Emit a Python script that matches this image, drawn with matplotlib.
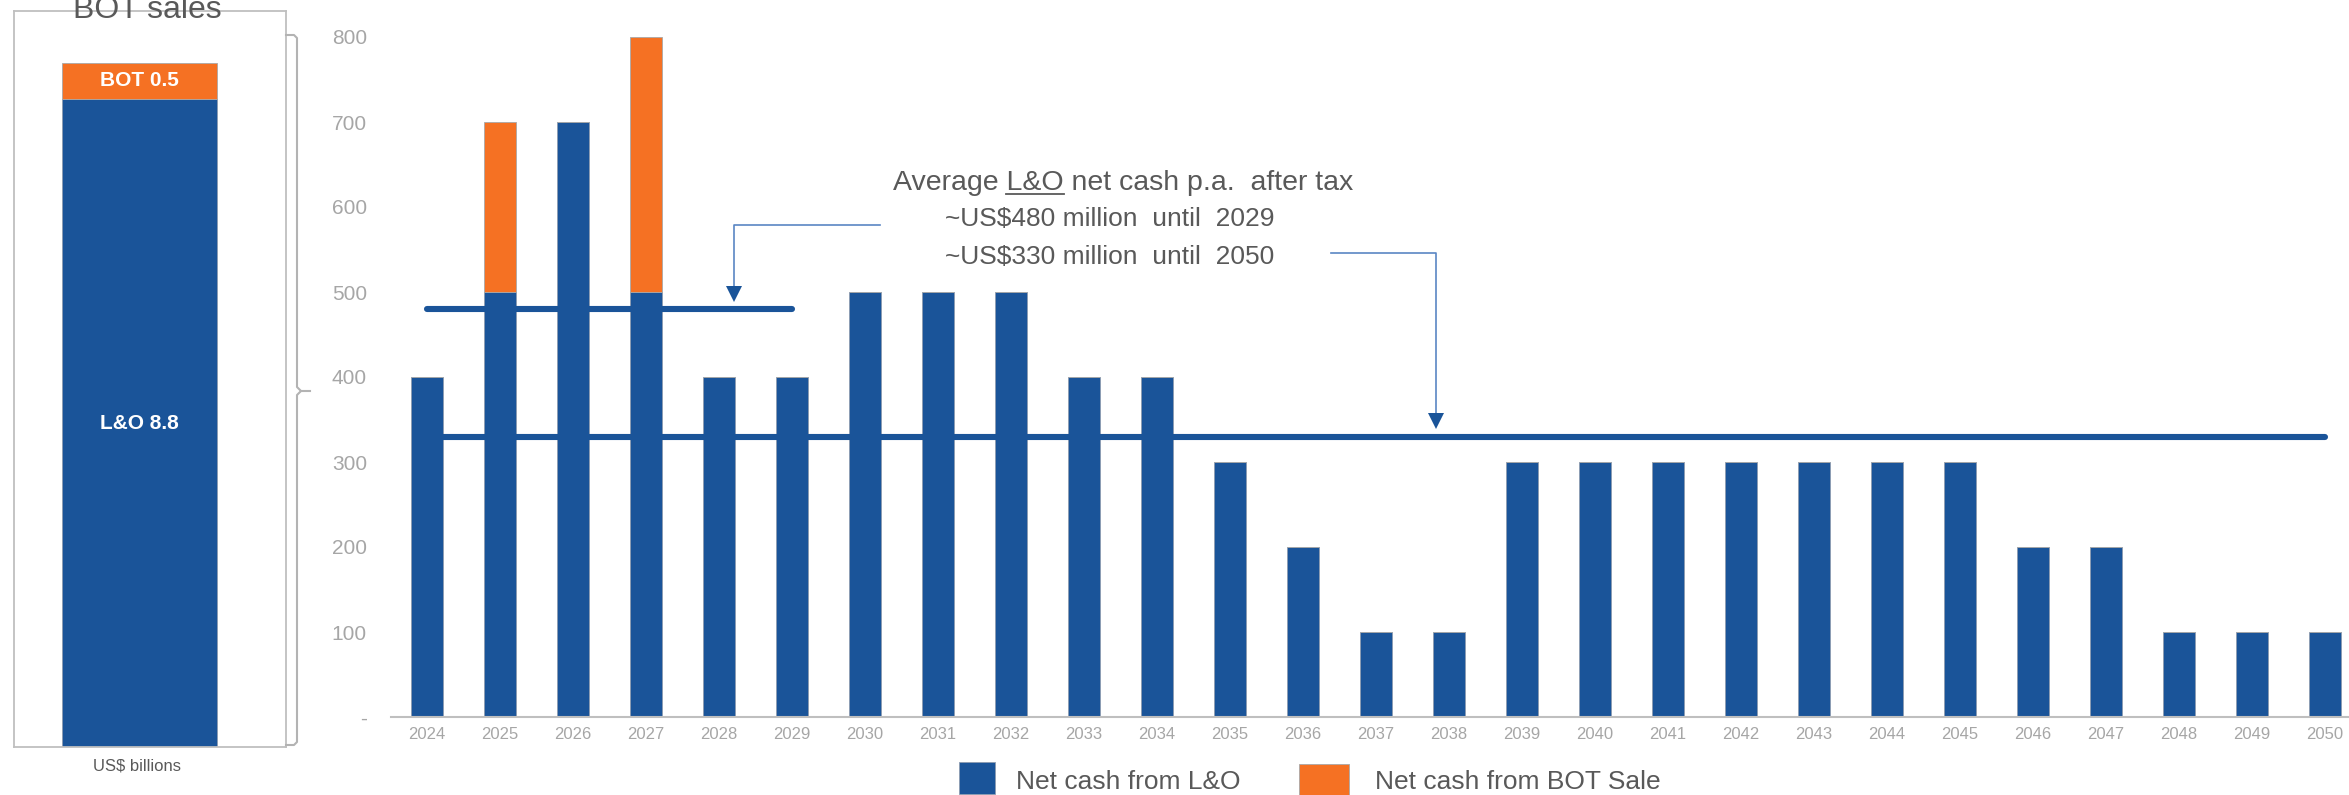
import numpy as np
import matplotlib
matplotlib.use("Agg")
import matplotlib.pyplot as plt
from matplotlib import font_manager
from matplotlib.lines import Line2D
from matplotlib.patches import Rectangle

# ---- data -------------------------------------------------------------
years = list(range(2024, 2051))
lo_cash = [400, 500, 700, 500, 400, 400, 500, 500, 500, 400, 400, 300, 200, 100,
           100, 300, 300, 300, 300, 300, 300, 300, 200, 200, 100, 100, 100]
bot_cash = [0, 200, 0, 300, 0, 0, 0, 0, 0, 0, 0, 0, 0, 0,
            0, 0, 0, 0, 0, 0, 0, 0, 0, 0, 0, 0, 0]
y_ticks = [0, 100, 200, 300, 400, 500, 600, 700, 800]
y_tick_labels = ["-", "100", "200", "300", "400", "500", "600", "700", "800"]

avg_to_2029 = 480
avg_to_2050 = 330

total_lo = 8.8     # US$ billions
total_bot = 0.5

# ---- style ------------------------------------------------------------
BLUE = "#1A5499"
ORANGE = "#F57123"
LINK = "#5A86C4"
TEXT = "#595959"
TICK = "#A6A6A6"
FRAME = "#BFBFBF"

names = {f.name for f in font_manager.fontManager.ttflist}
REG = "Liberation Sans" if "Liberation Sans" in names else "DejaVu Sans"
NARROW = "Liberation Sans Narrow" if "Liberation Sans Narrow" in names else REG
plt.rcParams["font.family"] = [REG, "DejaVu Sans"]

W, H = 2349, 795
fig = plt.figure(figsize=(W / 100, H / 100), dpi=100)


def fx(px):
    return px / W


def fy(py):
    return 1 - py / H


# ---- main yearly chart ------------------------------------------------
ax_left, ax_bottom, ax_top = 390.5, 717, 37
step = 73.0  # pixels per year
ax = fig.add_axes([fx(ax_left), fy(ax_bottom), (W - ax_left) / W, (ax_bottom - ax_top) / H])
x = np.arange(len(years))
ax.bar(x, lo_cash, width=0.44, color=BLUE, edgecolor="#8C9BB0", linewidth=0.6, zorder=2)
ax.bar(x, bot_cash, width=0.44, bottom=lo_cash, color=ORANGE, edgecolor="#A8A8A8",
       linewidth=0.6, zorder=2)

ax.set_xlim(-0.5, -0.5 + (W - ax_left) / step)
ax.set_ylim(0, 800)
ax.set_yticks(y_ticks)
ax.set_yticklabels(y_tick_labels)
ax.set_xticks(x)
ax.set_xticklabels([str(y) for y in years], family=[NARROW, REG])
ax.tick_params(axis="y", length=0, pad=17, labelsize=15, labelcolor=TICK)
ax.tick_params(axis="x", length=0, pad=7, labelsize=12, labelcolor=TICK)
for side in ("top", "right", "left"):
    ax.spines[side].set_visible(False)
ax.spines["bottom"].set_color(FRAME)
ax.spines["bottom"].set_linewidth(1.5)

# average lines
i2029 = years.index(2029)
i2050 = years.index(2050)
ax.plot([0, i2029], [avg_to_2029] * 2, color=BLUE, lw=4.4, solid_capstyle="round", zorder=4)
ax.plot([0, i2050], [avg_to_2050] * 2, color=BLUE, lw=4.4, solid_capstyle="round", zorder=4)

# connector arrows from the note down to the average lines
def connector(x_drop, x_end, y_link, y_target):
    ax.plot([x_end, x_drop, x_drop], [y_link, y_link, y_target + 14], color=LINK, lw=1.2,
            zorder=5, clip_on=False)
    ax.plot([x_drop], [y_target + 18], marker="v", markersize=11, color=BLUE,
            markeredgewidth=0, zorder=6, clip_on=False)


connector(4.2, 6.2, 579, avg_to_2029)
connector(13.82, 12.38, 546, avg_to_2050)

# note text
head_kw = dict(color=TEXT, fontsize=20.5, family=[NARROW, REG])
note_kw = dict(color=TEXT, fontsize=19, family=[NARROW, REG])
renderer = fig.canvas.get_renderer()
line1 = "Average L&O net cash p.a.  after tax"
t1 = fig.text(fx(1123), fy(190), line1, ha="center", va="baseline", **head_kw)
bb = t1.get_window_extent(renderer)
tmp_a = fig.text(0, 0, "Average L&O", **head_kw)
tmp_b = fig.text(0, 0, "L&O", **head_kw)
wa = tmp_a.get_window_extent(renderer).width
wb = tmp_b.get_window_extent(renderer).width
tmp_a.remove()
tmp_b.remove()
ux0 = bb.x0 + wa - wb
ux1 = bb.x0 + wa
uy = H - 194
fig.add_artist(Line2D([ux0 / W, ux1 / W], [uy / H, uy / H], color=TEXT, lw=1.3))
fig.text(fx(945), fy(226), "~US$480 million  until  2029", ha="left", va="baseline", **note_kw)
fig.text(fx(945), fy(264), "~US$330 million  until  2050", ha="left", va="baseline", **note_kw)

# ---- left totals panel ------------------------------------------------
lax = fig.add_axes([fx(14), fy(747), 272 / W, 736 / H])
lax.set_xlim(0, 1)
lax.set_ylim(0, 10)
bx, bw = 0.4614, 0.57
lax.bar(bx, total_lo, width=bw, color=BLUE, edgecolor="#8C9BB0", linewidth=0.6)
lax.bar(bx, total_bot, width=bw, bottom=total_lo, color=ORANGE, edgecolor="#A8A8A8",
        linewidth=0.6)
lax.text(bx, total_lo / 2, f"L&O {total_lo}", ha="center", va="center", color="white",
         fontsize=15, fontweight="bold")
lax.text(bx, total_lo + total_bot / 2, f"BOT {total_bot}", ha="center", va="center",
         color="white", fontsize=15, fontweight="bold")
lax.set_xticks([])
lax.set_yticks([])
for s in lax.spines.values():
    s.set_color(FRAME)
    s.set_linewidth(1.3)

fig.text(fx(147.5), fy(18), "BOT sales", ha="center", va="baseline", color=TEXT, fontsize=23)
fig.text(fx(137), fy(766), "US$ billions", ha="center", va="center", color=TEXT, fontsize=12)

# brace linking the panel to the yearly chart
brace = [(286, 35), (294, 35), (297, 38), (297, 387), (301, 391), (297, 395),
         (297, 742), (294, 745), (286, 745)]
fig.add_artist(Line2D([fx(p[0]) for p in brace], [fy(p[1]) for p in brace],
                      color="#B3B3B3", lw=1.5))
fig.add_artist(Line2D([fx(301), fx(310)], [fy(391), fy(391)], color="#B3B3B3", lw=1.5))

# ---- legend -----------------------------------------------------------
fig.add_artist(Rectangle((fx(959), fy(794)), 36 / W, 32 / H, transform=fig.transFigure,
                         facecolor=BLUE, edgecolor="#8C9BB0", lw=0.6))
fig.text(fx(1016), fy(789), "Net cash from L&O", ha="left", va="baseline", **note_kw)
fig.add_artist(Rectangle((fx(1299), fy(795)), 50 / W, 31 / H, transform=fig.transFigure,
                         facecolor=ORANGE, edgecolor="#A8A8A8", lw=0.6))
fig.text(fx(1375), fy(789), "Net cash from BOT Sale", ha="left", va="baseline", **note_kw)

fig.savefig("out.png", dpi=100)
